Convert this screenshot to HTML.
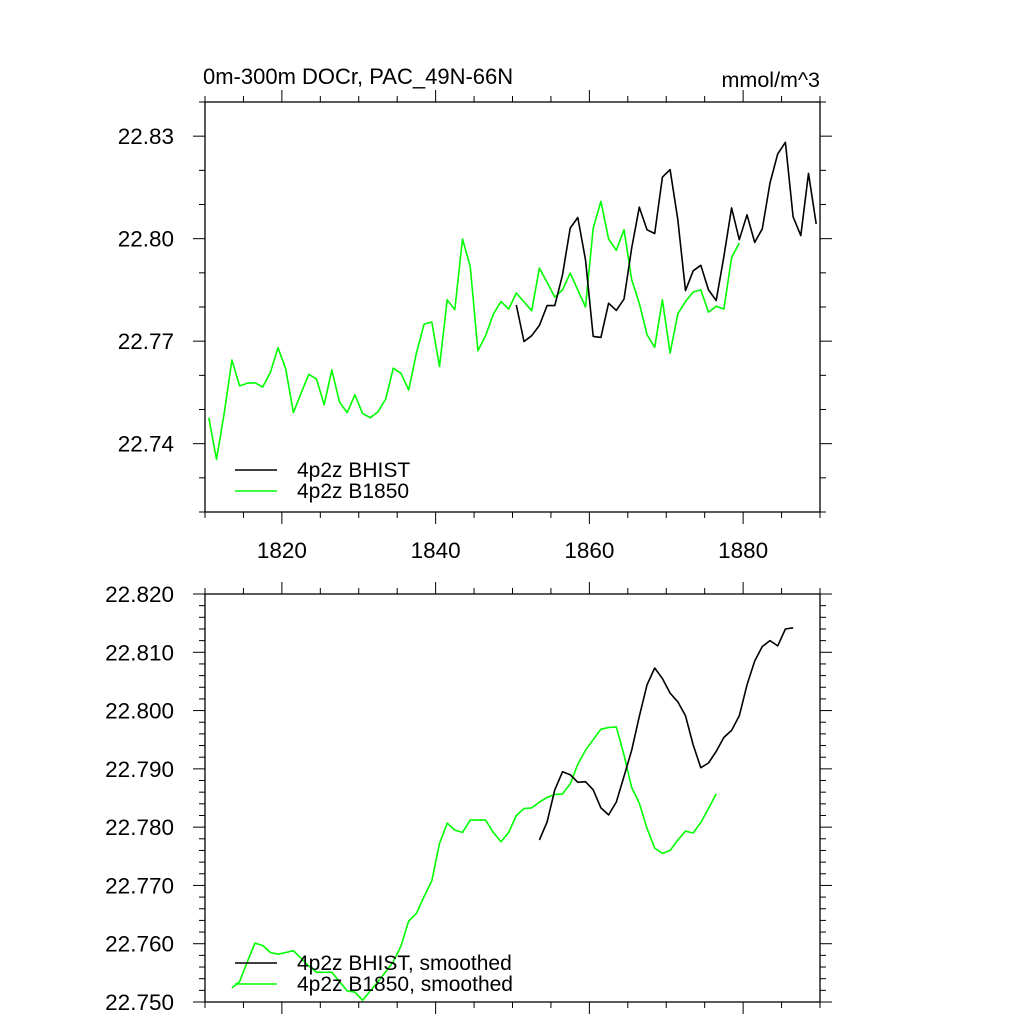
<!DOCTYPE html>
<html><head><meta charset="utf-8">
<style>
html,body{margin:0;padding:0;background:#fff;}
svg{display:block;font-family:"Liberation Sans",Arial,sans-serif;}
</style></head>
<body>
<svg id="chart" width="1024" height="1024" viewBox="0 0 1024 1024" xmlns="http://www.w3.org/2000/svg">
<rect width="1024" height="1024" fill="#fff"/>
<text x="203" y="84" font-size="22">0m-300m DOCr, PAC_49N-66N</text>
<text x="820" y="87" font-size="21.5" text-anchor="end">mmol/m^3</text>
<g id="top"></g>
<g id="bot"></g>
</svg>
<script>
// ---- data ----
const greenStartYear = 1810.5;
const greenRaw = [22.7476,22.7354,22.7489,22.7645,22.7569,22.7577,22.7578,22.7566,22.7608,22.7681,
22.7619,22.7491,22.7548,22.7603,22.7589,22.7514,22.7616,22.7522,22.7491,22.7543,
22.7488,22.7476,22.7493,22.7531,22.7621,22.7606,22.7557,22.7665,22.7750,22.7756,
22.7626,22.7821,22.7792,22.7999,22.7919,22.7672,22.7716,22.7779,22.7816,22.7794,
22.7841,22.7815,22.7789,22.7914,22.7872,22.7829,22.7850,22.7899,22.7850,22.7800,
22.8031,22.8109,22.7999,22.7966,22.8026,22.7880,22.7811,22.7719,22.7682,22.7821,
22.7665,22.7780,22.7816,22.7844,22.7850,22.7785,22.7802,22.7794,22.7945,22.7987];
const blackStartYear = 1850.5;
const blackRaw = [22.7806,22.7699,22.7716,22.7746,22.7804,22.7804,22.7894,22.8031,22.8062,22.7938,
22.7714,22.7711,22.7811,22.7790,22.7823,22.7973,22.8092,22.8026,22.8015,22.8180,
22.8202,22.8056,22.7848,22.7906,22.7922,22.7850,22.7819,22.7948,22.8090,22.7997,
22.8070,22.7989,22.8029,22.8163,22.8248,22.8282,22.8064,22.8009,22.8191,22.8043];
const greenSmoothStartYear = 1813.5;
const greenSmooth = [22.7524,22.7535,22.7569,22.7601,22.7597,22.7585,22.7582,22.7585,22.7588,22.7575,
22.7562,22.7551,22.7551,22.7551,22.7535,22.7519,22.7517,22.7503,22.7519,22.7535,
22.7552,22.7569,22.7596,22.7639,22.7652,22.7681,22.7708,22.7772,22.7807,22.7795,
22.7791,22.7812,22.7812,22.7812,22.7791,22.7775,22.7791,22.7820,22.7832,22.7833,
22.7843,22.7851,22.7856,22.7857,22.7874,22.7908,22.7932,22.7950,22.7968,22.7971,
22.7972,22.7924,22.7868,22.7841,22.7798,22.7764,22.7755,22.7760,22.7778,22.7793,
22.7790,22.7808,22.7832,22.7857];
const blackSmoothStartYear = 1853.5;
const blackSmooth = [22.7778,22.7809,22.7864,22.7895,22.7890,22.7877,22.7878,22.7864,22.7833,22.7821,
22.7843,22.7887,22.7932,22.7990,22.8044,22.8073,22.8055,22.8030,22.8015,22.7991,
22.7941,22.7902,22.7910,22.7930,22.7954,22.7966,22.7991,22.8044,22.8085,22.8110,
22.8120,22.8111,22.8140,22.8142];
const topYTicks = ["22.74","22.77","22.80","22.83"];
const botYTicks = ["22.750","22.760","22.770","22.780","22.790","22.800","22.810","22.820"];
const xTickLabels = ["1820","1840","1860","1880"];

const NS="http://www.w3.org/2000/svg";
function mk(parent,tag,attrs){const e=document.createElementNS(NS,tag);for(const k in attrs)e.setAttribute(k,attrs[k]);parent.appendChild(e);return e;}

function panel(g,cfg){
  const L=205,R=820,T=cfg.top,B=cfg.bottom;
  const xs=v=>L+(v-1810)/(1890-1810)*(R-L);
  const ys=v=>B-(v-cfg.ymin)/(cfg.ymax-cfg.ymin)*(B-T);
  const frame=mk(g,'rect',{x:L,y:T,width:R-L,height:B-T,fill:'none',stroke:'#000','stroke-width':1.3});
  
  
  for(let yr=1810;yr<=1890;yr+=5){
    const maj=yr%20===0, len=maj?12:6, x=xs(yr);
    const t1=mk(g,'line',{x1:x,x2:x,y1:B,y2:B+len,stroke:'#000','stroke-width':1});
    
    
    const t2=mk(g,'line',{x1:x,x2:x,y1:T,y2:T-len,stroke:'#000','stroke-width':1});
    
    
  }
  if(cfg.xlabels){
    xTickLabels.forEach(s=>{
      const t=mk(g,'text',{x:xs(+s),y:B+46,'font-size':22.5,'text-anchor':'middle'});t.textContent=s;
      
      
    });
  }
  const n=Math.round((cfg.ymax-cfg.ymin)/cfg.minor);
  for(let i=0;i<=n;i++){
    const v=cfg.ymin+i*cfg.minor, y=ys(v);
    const maj=Math.abs(((v-cfg.majorBase)/cfg.major)-Math.round((v-cfg.majorBase)/cfg.major))<1e-6;
    const len=maj?12:6;
    const a=mk(g,'line',{x1:L,x2:L-len,y1:y,y2:y,stroke:'#000','stroke-width':1});
    
    
    const b=mk(g,'line',{x1:R,x2:R+len,y1:y,y2:y,stroke:'#000','stroke-width':1});
    
    
  }
  cfg.ylabels.forEach(s=>{
    const t=mk(g,'text',{x:174,y:ys(+s)+8,'font-size':22.5,'text-anchor':'end'});t.textContent=s;
    
    
  });
  cfg.series.forEach(sr=>{
    const pts=sr.vals.map((v,i)=>xs(sr.start+i).toFixed(1)+','+ys(v).toFixed(1)).join(' ');
    const p=mk(g,'polyline',{points:pts,fill:'none',stroke:sr.color,'stroke-width':1.6,'stroke-linejoin':'round'});
    
    
  });
  cfg.legend.forEach((lg,i)=>{
    const y=cfg.legY+i*21;
    const l=mk(g,'line',{x1:235,x2:277,y1:y,y2:y,stroke:lg.color,'stroke-width':1.6});
    
    
    const t=mk(g,'text',{x:297,y:y+7,'font-size':21});t.textContent=lg.label;
    
    
  });
}
panel(document.getElementById('top'),{top:102,bottom:512,ymin:22.72,ymax:22.84,minor:0.01,major:0.03,majorBase:22.74,
  ylabels:topYTicks,xlabels:true,
  series:[{vals:greenRaw,start:greenStartYear,color:'#00ff00',name:'b1850-line'},{vals:blackRaw,start:blackStartYear,color:'#000',name:'bhist-line'}],
  legY:470,legend:[{color:'#000',label:'4p2z BHIST'},{color:'#00ff00',label:'4p2z B1850'}]});
panel(document.getElementById('bot'),{top:594,bottom:1002,ymin:22.75,ymax:22.82,minor:0.002,major:0.01,majorBase:22.75,
  ylabels:botYTicks,xlabels:false,
  series:[{vals:greenSmooth,start:greenSmoothStartYear,color:'#00ff00',name:'b1850-smoothed-line'},{vals:blackSmooth,start:blackSmoothStartYear,color:'#000',name:'bhist-smoothed-line'}],
  legY:963,legend:[{color:'#000',label:'4p2z BHIST, smoothed'},{color:'#00ff00',label:'4p2z B1850, smoothed'}]});
</script>
</body></html>
